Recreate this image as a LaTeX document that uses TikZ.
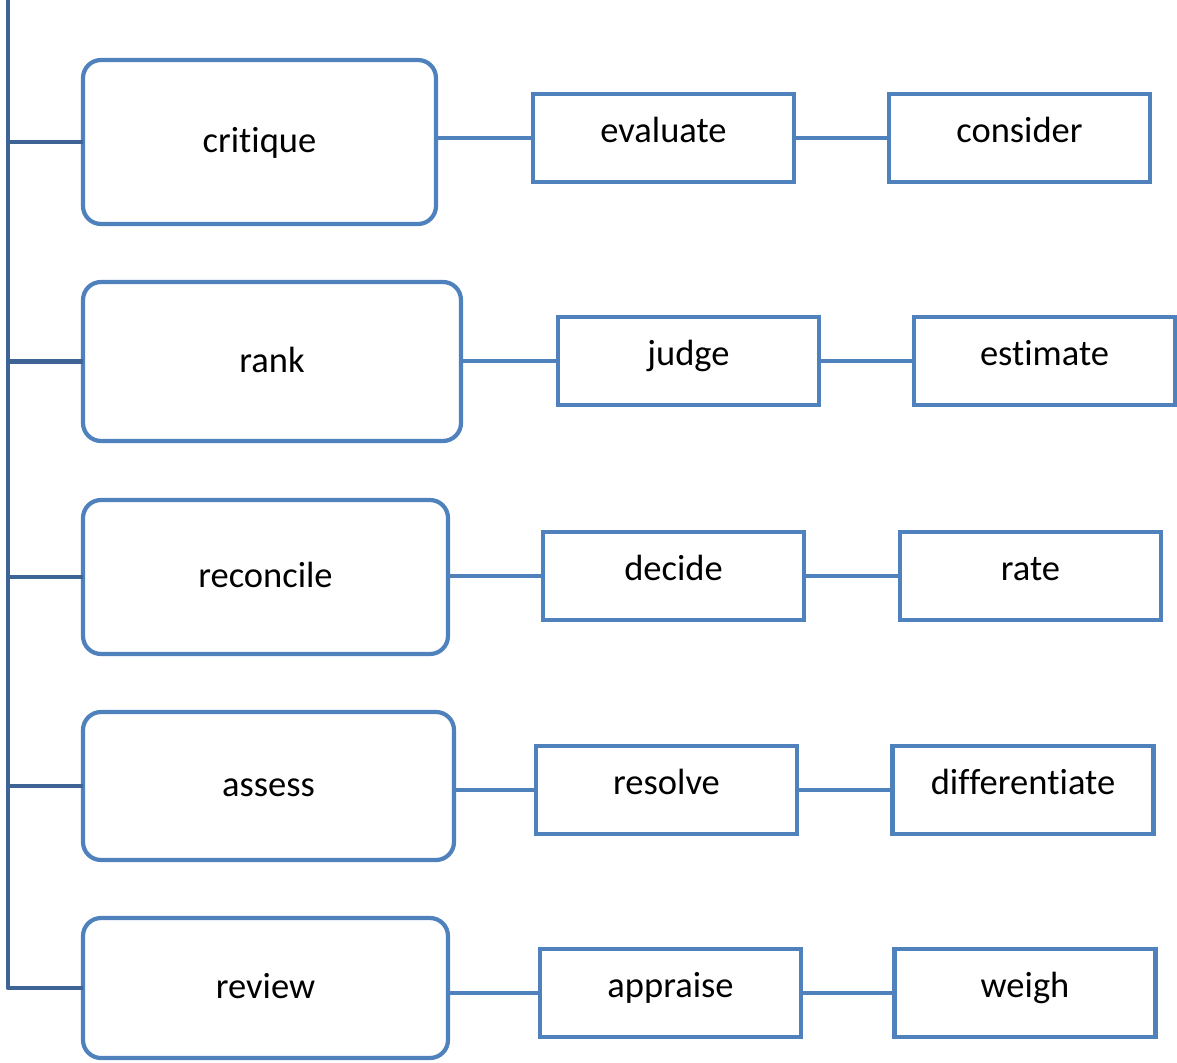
\documentclass[tikz,border=0pt]{standalone}
\usepackage{fontspec}
\setmainfont{Carlito}[Ligatures={NoCommon,NoRare,NoContextual},Contextuals={NoAlternate}]
\definecolor{boxblue}{RGB}{79,129,189}
\definecolor{trunkblue}{RGB}{62,100,150}
\begin{document}
\begin{tikzpicture}[x=1pt,y=-1pt,
  every node/.style={outer sep=0pt, inner sep=0pt,
    font=\fontsize{36.5}{44}\selectfont},
  bigbox/.style={draw=boxblue, line width=4.2pt, rounded corners=18pt,
    text height=26pt, text depth=5pt},
  smallbox/.style={draw=boxblue, line width=4.2pt,
    minimum width=261pt, minimum height=88pt,
    text height=22pt, text depth=13pt},
  link/.style={draw=boxblue, line width=4.2pt},
  trunk/.style={draw=trunkblue, line width=4.2pt, line join=round}]
\useasboundingbox (0,0) rectangle (1177,1062);

% first column: rounded boxes
\node[bigbox, minimum width=353pt, minimum height=164pt] (b1) at (259.5,142) {crit\kern0pt ique};
\node[bigbox, minimum width=378pt, minimum height=159pt] (b2) at (272,361.5) {rank};
\node[bigbox, minimum width=365pt, minimum height=154pt] (b3) at (265.5,577) {reconcile};
\node[bigbox, minimum width=371pt, minimum height=148pt] (b4) at (268.5,786) {assess};
\node[bigbox, minimum width=365pt, minimum height=140pt] (b5) at (265.5,988) {review};

% second column
\node[smallbox] (m1) at (663.5,138) {evaluate};
\node[smallbox] (m2) at (688.5,361) {judge};
\node[smallbox] (m3) at (673.5,576) {decide};
\node[smallbox] (m4) at (666.5,790) {resolve};
\node[smallbox] (m5) at (670.5,993) {appraise};

% third column
\node[smallbox] (r1) at (1019.5,138) {consider};
\node[smallbox] (r2) at (1044.5,361) {estimate};
\node[smallbox] (r3) at (1030.5,576) {rate};
\node[smallbox] (r4) at (1023,790) {dif\kern0pt feren\kern0pt tiate};
\node[smallbox] (r5) at (1025,993) {weigh};

% vertical trunk with branches
\coordinate (top) at (8,0);
\draw[trunk] (top) -- (b5.west -| top) -- (b5.west);
\foreach \i in {1,2,3,4}
  \draw[trunk] (b\i.west -| top) -- (b\i.west);

% horizontal links between columns
\foreach \i in {1,...,5} {
  \draw[link] (b\i.east |- m\i.west) -- (m\i.west);
  \draw[link] (m\i.east) -- (r\i.west);
}
\end{tikzpicture}
\end{document}
